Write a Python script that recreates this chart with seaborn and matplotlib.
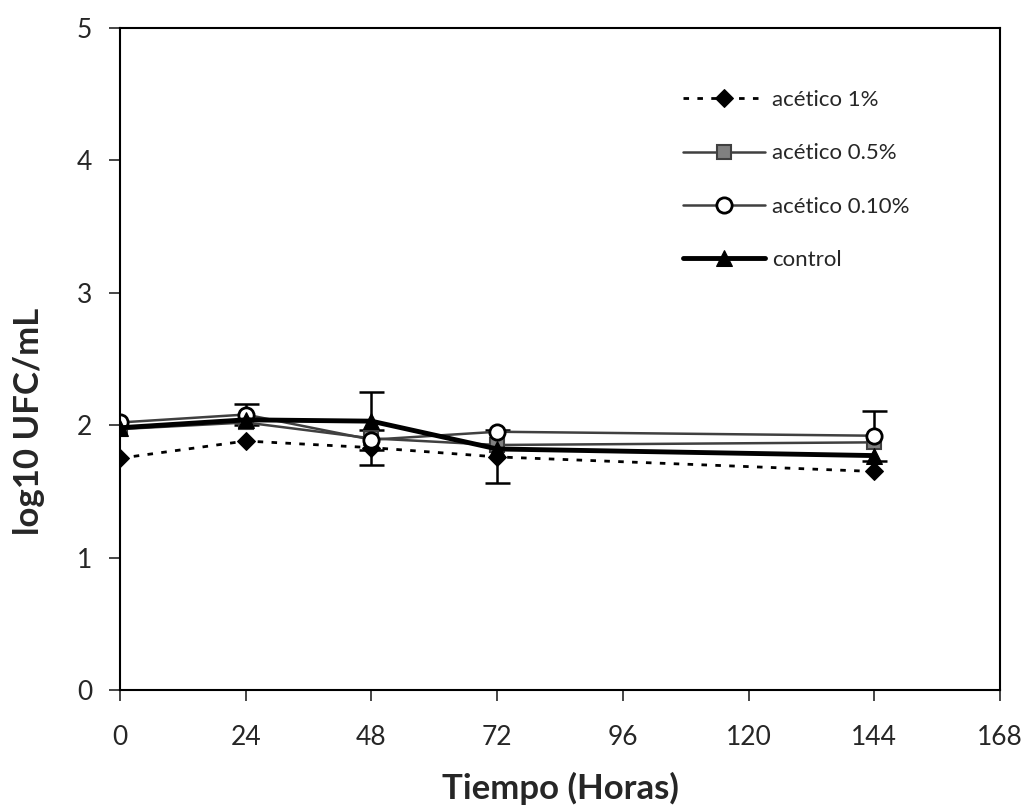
import numpy as np
import matplotlib
matplotlib.use("Agg")
import matplotlib.pyplot as plt
import pandas as pd
import seaborn as sns

horas = [0, 24, 48, 72, 144]

acetico_1 = [1.75, 1.88, 1.83, 1.76, 1.65]
acetico_05 = [1.97, 2.02, 1.90, 1.85, 1.87]
acetico_010 = [2.02, 2.08, 1.89, 1.95, 1.92]
control = [1.98, 2.04, 2.03, 1.82, 1.77]

err_1 = [0, 0, 0.13, 0.20, 0]
err_05 = [0, 0, 0, 0, 0]
err_010 = [0, 0.08, 0, 0, 0.19]
err_control = [0, 0, 0.22, 0, 0]

sns.set_style("white")
plt.rcParams['font.family'] = ['Lato', 'DejaVu Sans']

fig = plt.figure(figsize=(10.21, 8.07), dpi=100)
ax = fig.add_axes([0.1175, 0.145, 0.862, 0.8205])

series = [
    ("acético 1%", acetico_1, err_1, dict(color="black", linestyle=(0, (2, 3)), linewidth=2,
                                          marker="D", markersize=9, markerfacecolor="black",
                                          markeredgecolor="black")),
    ("acético 0.5%", acetico_05, err_05, dict(color="#404040", linestyle="-", linewidth=1.8,
                                              marker="s", markersize=10, markerfacecolor="#808080",
                                              markeredgecolor="#404040", markeredgewidth=1.5)),
    ("acético 0.10%", acetico_010, err_010, dict(color="#404040", linestyle="-", linewidth=1.8,
                                                 marker="o", markersize=11, markerfacecolor="white",
                                                 markeredgecolor="black", markeredgewidth=2)),
    ("control", control, err_control, dict(color="black", linestyle="-", linewidth=3.5,
                                          marker="^", markersize=11, markerfacecolor="black",
                                          markeredgecolor="black")),
]

for name, vals, errs, style in series:
    df = pd.DataFrame({"Tiempo": horas, "log": vals})
    sns.lineplot(data=df, x="Tiempo", y="log", ax=ax, label=name, **style)
    e = np.array(errs)
    mask = e > 0
    ax.errorbar(np.array(horas)[mask], np.array(vals)[mask], yerr=e[mask], fmt="none",
                ecolor="black", elinewidth=1.8, capsize=9, capthick=1.8, zorder=1)

ax.set_xlim(0, 168)
ax.set_ylim(0, 5)
ax.set_xticks(range(0, 169, 24))
ax.set_yticks(range(0, 6))
ax.tick_params(axis="both", direction="out", length=8, width=1.2, labelsize=19,
               bottom=True, left=True)
ax.tick_params(axis="x", pad=17)
ax.tick_params(axis="y", pad=12)
for s in ax.spines.values():
    s.set_color("black")
    s.set_linewidth(1.5)

ax.set_xlabel("Tiempo (Horas)", fontsize=25, fontweight="bold")
ax.set_ylabel("log10 UFC/mL", fontsize=25, fontweight="bold")
ax.xaxis.set_label_coords(0.5, -0.124)
ax.yaxis.set_label_coords(-0.085, 0.406)

leg = ax.legend(loc="upper left", bbox_to_anchor=(0.64, 0.906), frameon=False,
                borderaxespad=0, borderpad=0,
                fontsize=16, handlelength=3.7, labelspacing=1.5, handletextpad=0.3)

fig.savefig("out.png", dpi=100)
